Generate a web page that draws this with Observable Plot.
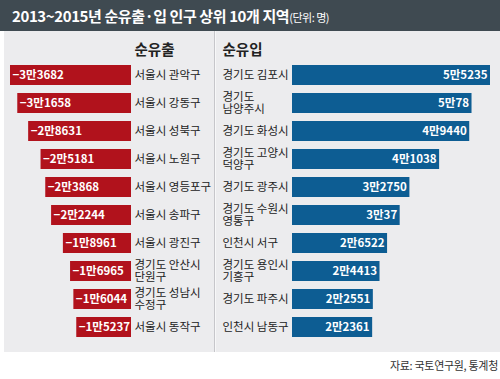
<!DOCTYPE html>
<html>
<head>
<meta charset="utf-8">
<script src="https://cdn.jsdelivr.net/npm/d3@7"></script>
<script src="https://cdn.jsdelivr.net/npm/@observablehq/plot@0.6"></script>
<style>
  html, body { margin: 0; padding: 0; background: #fff; width: 500px; overflow: hidden; }
  body { font-family: "Noto Sans CJK KR", "Noto Sans", sans-serif; }
  #title { height: 31px; background: #3f4a51; color: #fff; box-sizing: border-box; padding-left: 12px;
           font-weight: bold; font-size: 15px; line-height: 31px; letter-spacing: -0.4px; white-space: nowrap; }
  #title small { font-size: 11px; font-weight: normal; letter-spacing: -0.5px; }
  #panel { margin-left: 4px; width: 496px; height: 321px; background: #ececee; display: flex; }
  #left { width: 210px; height: 321px; }
  #right { width: 285px; height: 321px; border-left: 1px solid #c6c6ca; box-shadow: inset 1px 0 0 #f7f7f8; }
  #caption { height: 27px; text-align: right; padding-right: 2px; font-size: 11px; color: #333;
             line-height: 26px; letter-spacing: -0.3px; }
  svg text { font-family: "Noto Sans CJK KR", sans-serif; }
</style>
</head>
<body>
<div id="title">2013~2015년 순유출·입 인구 상위 10개 지역<small>(단위: 명)</small></div>
<div id="panel"><div id="left"></div><div id="right"></div></div>
<div id="caption">자료: 국토연구원, 통계청</div>
<script>
const ranks = [1, 2, 3, 4, 5, 6, 7, 8, 9, 10];
const regionsOut = ["서울시 관악구", "서울시 강동구", "서울시 성북구", "서울시 노원구", "서울시 영등포구",
  "서울시 송파구", "서울시 광진구", "경기도 안산시\n단원구", "경기도 성남시\n수정구", "서울시 동작구"];
const valuesOut = [33682, 31658, 28631, 25181, 23868, 22244, 18961, 16965, 16044, 15237];
const regionsIn = ["경기도 김포시", "경기도\n남양주시", "경기도 화성시", "경기도 고양시\n덕양구", "경기도 광주시",
  "경기도 수원시\n영통구", "인천시 서구", "경기도 용인시\n기흥구", "경기도 파주시", "인천시 남동구"];
const valuesIn = [55235, 50078, 49440, 41038, 32750, 30037, 26522, 24413, 22551, 22361];
const headOut = "순유출";
const headIn = "순유입";

const fmt = v => Math.floor(v / 10000) + "만" + (v % 10000);
const outData = ranks.map((r, i) => ({ rank: r, region: regionsOut[i], value: valuesOut[i] }));
const inData = ranks.map((r, i) => ({ rank: r, region: regionsIn[i], value: valuesIn[i] }));

const H = 321;
const yOpt = { domain: ranks, padding: 0.3, axis: null };
const labelStyle = { fontSize: 11.5, fill: "#222", lineHeight: 1.05, letterSpacing: "-0.9px" };
const valStyle = { fontSize: 11.5, fontWeight: "bold", fill: "#fff", letterSpacing: "-0.75px" };
const headStyle = { fontSize: 14.5, fontWeight: "bold", fill: "#222", letterSpacing: "-0.3px" };

const left = Plot.plot({
  width: 210, height: H,
  marginLeft: 6, marginRight: 83, marginTop: 22.4, marginBottom: 3.3,
  x: { domain: [-33682, 0], axis: null },
  y: yOpt,
  style: { background: "transparent", overflow: "visible" },
  marks: [
    Plot.barX(outData, { y: "rank", x: d => -d.value, fill: "#b1121c" }),
    Plot.text(outData, { y: "rank", x: d => -d.value, text: d => "−" + fmt(d.value), textAnchor: "start", dx: 2, ...valStyle }),
    Plot.text(outData, { y: "rank", x: 0, text: "region", textAnchor: "start", dx: 3, ...labelStyle }),
    Plot.text([headOut], { x: 0, frameAnchor: "top", text: d => d, textAnchor: "start", lineAnchor: "bottom", dx: 3, dy: 1, ...headStyle })
  ]
});
document.getElementById("left").append(left);

const right = Plot.plot({
  width: 285, height: H,
  marginLeft: 77, marginRight: 10, marginTop: 22.4, marginBottom: 3.3,
  x: { domain: [0, 55235], axis: null },
  y: yOpt,
  style: { background: "transparent", overflow: "visible" },
  marks: [
    Plot.barX(inData, { y: "rank", x: "value", fill: "#0d5d93" }),
    Plot.text(inData, { y: "rank", x: "value", text: d => fmt(d.value), textAnchor: "end", dx: -3, ...valStyle }),
    Plot.text(inData, { y: "rank", x: 0, text: "region", textAnchor: "start", dx: -70, ...labelStyle }),
    Plot.text([headIn], { x: 0, frameAnchor: "top", text: d => d, textAnchor: "start", lineAnchor: "bottom", dx: -70, dy: 1, ...headStyle })
  ]
});
document.getElementById("right").append(right);
</script>
</body>
</html>
